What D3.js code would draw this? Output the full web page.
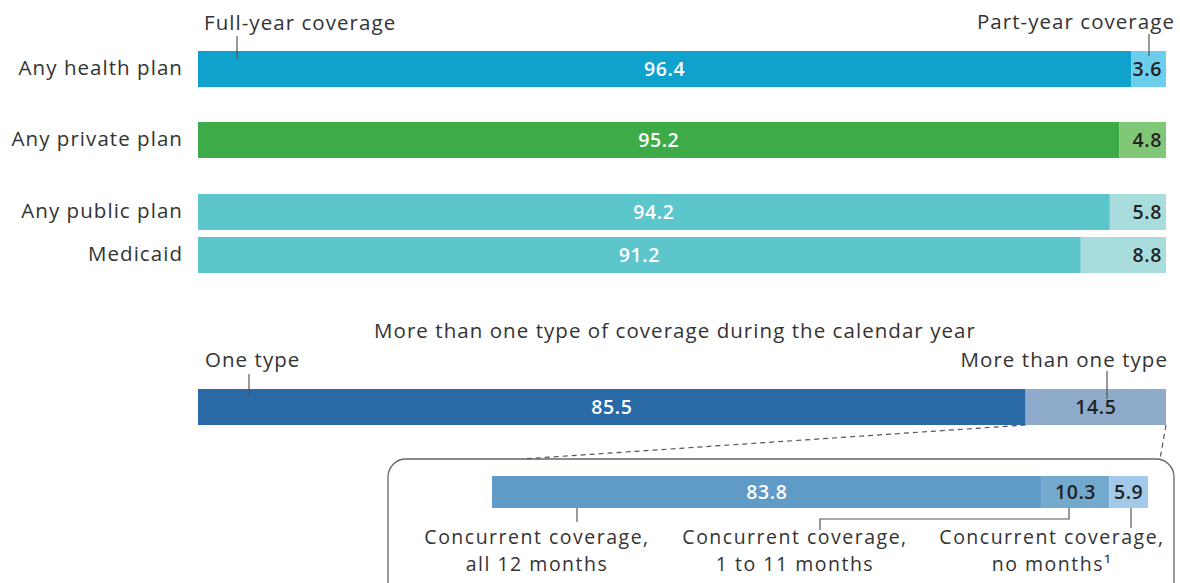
<!DOCTYPE html>
<html><head><meta charset="utf-8">
<script src="https://cdn.jsdelivr.net/npm/d3@7"></script>
<style>
html,body{margin:0;padding:0;background:#fff;}
svg text{font-family:"Open Sans","Noto Sans",sans-serif;}
.lab{font-size:20.5px;letter-spacing:1.05px;fill:#333;}
.lab2{font-size:19.5px;letter-spacing:1.5px;fill:#333;}
.num{font-size:19.5px;font-weight:600;letter-spacing:0.6px;}
</style></head>
<body>
<svg id="c" width="1180" height="583"></svg>
<script>
// ---- data ----
const categories = ["Any health plan", "Any private plan", "Any public plan", "Medicaid"];
const fullYear = [96.4, 95.2, 94.2, 91.2];
const partYear = [3.6, 4.8, 5.8, 8.8];
const typeLabels = ["One type", "More than one type"];
const typeValues = [85.5, 14.5];
const concurrentLabels = [["Concurrent coverage,", "all 12 months"], ["Concurrent coverage,", "1 to 11 months"], ["Concurrent coverage,", "no months\u00B9"]];
const concurrentValues = [83.8, 10.3, 5.9];

// ---- styles ----
const fullColors = ["#0ea2cd", "#3dab48", "#5dc6cc", "#5dc6cc"];
const partColors = ["#6dcdec", "#80c777", "#a9dcdc", "#a9dcdc"];
const typeColors = ["#2869a6", "#8eabcb"];
const concColors = ["#5f9bc6", "#73a9cd", "#a3c9e9"];
const lineC = "#555";

const svg = d3.select("#c");
const x = d3.scaleLinear().domain([0, 100]).range([198, 1166]);
const y = d3.scaleOrdinal().domain(categories).range([51, 122, 194, 237]);
const bh = 36;

// top bars
categories.forEach((c, i) => {
  const y0 = y(c);
  const segs = [{v0: 0, v1: fullYear[i], col: fullColors[i], val: fullYear[i], tc: "#fff"},
                {v0: fullYear[i], v1: fullYear[i] + partYear[i], col: partColors[i], val: partYear[i], tc: "#222"}];
  svg.selectAll(null).data(segs).enter().append("rect")
    .attr("x", d => x(d.v0)).attr("y", y0)
    .attr("width", d => x(d.v1) - x(d.v0)).attr("height", bh)
    .attr("fill", d => d.col);
  svg.selectAll(null).data(segs).enter().append("text").attr("class", "num")
    .attr("x", (d, j) => j === 0 ? (x(d.v0) + x(d.v1)) / 2 : x(d.v1) - 4)
    .attr("y", y0 + bh / 2 + 7)
    .attr("text-anchor", (d, j) => j === 0 ? "middle" : "end")
    .attr("fill", d => d.tc).text(d => d.val.toFixed(1));
  svg.append("text").attr("class", "lab").attr("x", 183).attr("y", y0 + bh / 2 + 6)
    .attr("text-anchor", "end").text(c);
});

// top annotations
svg.append("text").attr("class", "lab").attr("x", 204).attr("y", 30).text("Full-year coverage");
svg.append("line").attr("x1", 237).attr("x2", 237).attr("y1", 36).attr("y2", 59).attr("stroke", lineC).attr("stroke-width", 1.2);
svg.append("text").attr("class", "lab").attr("x", 1175).attr("y", 29).attr("text-anchor", "end").text("Part-year coverage");
svg.append("line").attr("x1", 1149).attr("x2", 1149).attr("y1", 34).attr("y2", 56).attr("stroke", lineC).attr("stroke-width", 1.2);

// section title
svg.append("text").attr("class", "lab").attr("x", 675).attr("y", 338).attr("text-anchor", "middle")
  .text("More than one type of coverage during the calendar year");

// type bar
const ty = 389;
let acc = 0;
const tsegs = typeValues.map((v, i) => { const s = {v0: acc, v1: acc + v, v, col: typeColors[i], tc: i === 0 ? "#fff" : "#222"}; acc += v; return s; });
svg.selectAll(null).data(tsegs).enter().append("rect")
  .attr("x", d => x(d.v0)).attr("y", ty).attr("width", d => x(d.v1) - x(d.v0)).attr("height", bh).attr("fill", d => d.col);
svg.selectAll(null).data(tsegs).enter().append("text").attr("class", "num")
  .attr("x", d => (x(d.v0) + x(d.v1)) / 2).attr("y", ty + bh / 2 + 7).attr("text-anchor", "middle")
  .attr("fill", d => d.tc).text(d => d.v.toFixed(1));
svg.append("text").attr("class", "lab").attr("x", 205).attr("y", 367).text(typeLabels[0]);
svg.append("line").attr("x1", 249).attr("x2", 249).attr("y1", 374).attr("y2", 395).attr("stroke", lineC).attr("stroke-width", 1.2);
svg.append("text").attr("class", "lab").attr("x", 1168).attr("y", 367).attr("text-anchor", "end").text(typeLabels[1]);
svg.append("line").attr("x1", 1107).attr("x2", 1107).attr("y1", 371).attr("y2", 399).attr("stroke", lineC).attr("stroke-width", 1.2);

// rounded box
svg.append("rect").attr("x", 388).attr("y", 459).attr("width", 786).attr("height", 160).attr("rx", 18)
  .attr("fill", "none").attr("stroke", "#666").attr("stroke-width", 1.3);
// dashed connectors
svg.append("line").attr("x1", x(typeValues[0])).attr("y1", ty + bh).attr("x2", 522).attr("y2", 459)
  .attr("stroke", "#555").attr("stroke-width", 1.2).attr("stroke-dasharray", "5,4");
svg.append("line").attr("x1", x(100)).attr("y1", ty + bh).attr("x2", 1160).attr("y2", 459)
  .attr("stroke", "#555").attr("stroke-width", 1.2).attr("stroke-dasharray", "5,4");

// concurrent bar
const x2 = d3.scaleLinear().domain([0, 100]).range([492, 1148]);
const cy = 476, ch = 32;
acc = 0;
const csegs = concurrentValues.map((v, i) => { const s = {v0: acc, v1: acc + v, v, col: concColors[i], tc: i === 0 ? "#fff" : "#222"}; acc += v; return s; });
svg.selectAll(null).data(csegs).enter().append("rect")
  .attr("x", d => x2(d.v0)).attr("y", cy).attr("width", d => x2(d.v1) - x2(d.v0)).attr("height", ch).attr("fill", d => d.col);
svg.selectAll(null).data(csegs).enter().append("text").attr("class", "num")
  .attr("x", d => (x2(d.v0) + x2(d.v1)) / 2).attr("y", cy + ch / 2 + 7).attr("text-anchor", "middle")
  .attr("fill", d => d.tc).text(d => d.v.toFixed(1));

// concurrent labels (one text element per line)
const labCx = [537, 795, 1052];
concurrentLabels.forEach((l, i) => {
  l.forEach((s, k) => svg.append("text").attr("class", "lab2").attr("text-anchor", "middle")
    .attr("x", labCx[i]).attr("y", 544 + k * 26.7).text(s));
});
svg.append("line").attr("x1", 577).attr("x2", 577).attr("y1", cy + ch).attr("y2", 522).attr("stroke", lineC).attr("stroke-width", 1.2);
svg.append("path").attr("d", `M820,530V519H1069V${cy + ch}`).attr("fill", "none").attr("stroke", lineC).attr("stroke-width", 1.2);
svg.append("line").attr("x1", 1131).attr("x2", 1131).attr("y1", cy + ch).attr("y2", 528).attr("stroke", lineC).attr("stroke-width", 1.2);
</script>
</body></html>
